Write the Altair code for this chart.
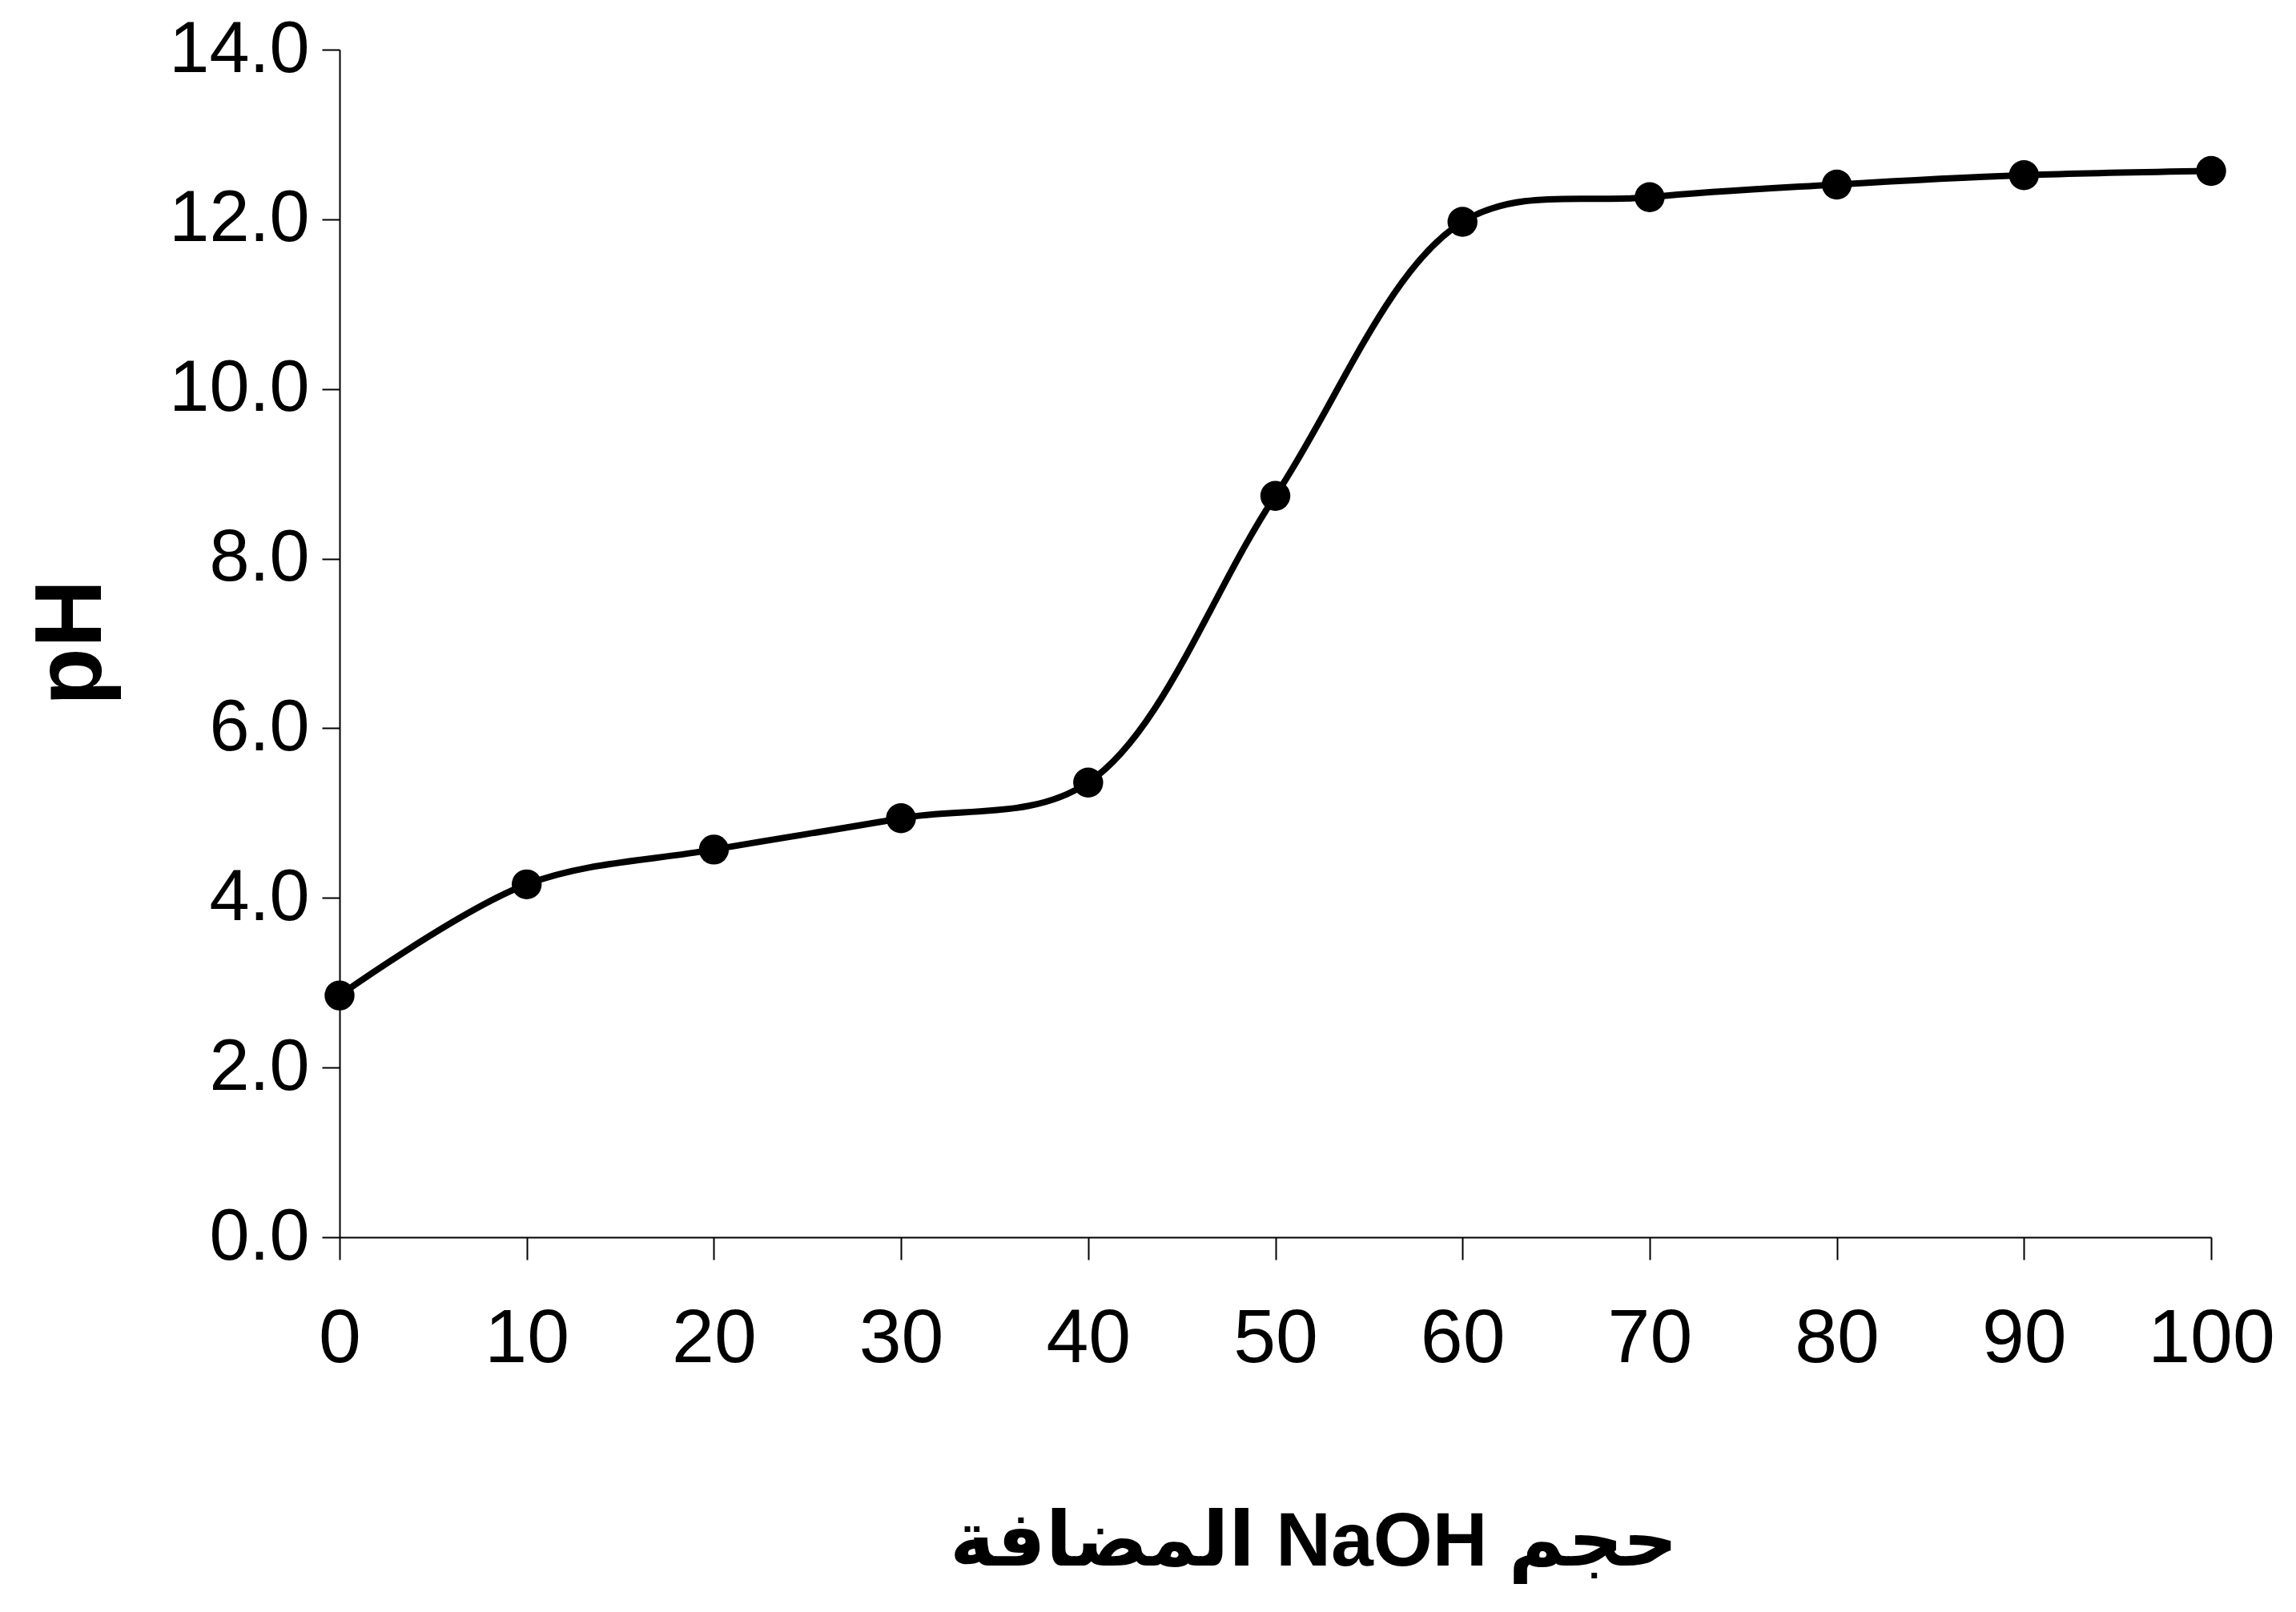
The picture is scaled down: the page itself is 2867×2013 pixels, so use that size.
import altair as alt
import pandas as pd

# Data (volume of NaOH added vs pH)
volume = [0, 10, 20, 30, 40, 50, 60, 70, 80, 90, 100]
ph = [2.85, 4.16, 4.57, 4.94, 5.36, 8.74, 11.97, 12.26, 12.41, 12.52, 12.57]

x_ticks = [0, 10, 20, 30, 40, 50, 60, 70, 80, 90, 100]
y_ticks = [0, 2, 4, 6, 8, 10, 12, 14]

x_title = "\u202bحجم NaOH المضافة\u202c"
y_title = "pH"

df = pd.DataFrame({"v": volume, "ph": ph})

FONT = "Liberation Sans, Arial, DejaVu Sans"

x_enc = alt.X(
    "v:Q",
    scale=alt.Scale(domain=[0, 100], nice=False, zero=False),
    axis=alt.Axis(
        values=x_ticks,
        format="d",
        title=x_title,
        titleFont=FONT,
        titleFontSize=95,
        titleFontWeight="bold",
        titleColor="black",
        titleX=1216,
        titleY=380,
        titleBaseline="middle",
        titleAlign="center",
        labelFont=FONT,
        labelFontSize=95,
        labelColor="black",
        labelPadding=52,
        labelFlush=False,
        labelOverlap=False,
        tickSize=28,
        tickWidth=2,
        tickColor="black",
        domainColor="black",
        domainWidth=2,
        grid=False,
    ),
)

y_enc = alt.Y(
    "ph:Q",
    scale=alt.Scale(domain=[0, 14], nice=False, zero=True),
    axis=alt.Axis(
        values=y_ticks,
        format=".1f",
        title=y_title,
        titleFont=FONT,
        titleFontSize=118,
        titleFontWeight="bold",
        titleColor="black",
        titleAngle=270,
        titleX=-334,
        titleY=740,
        titleBaseline="middle",
        titleAlign="center",
        labelFont=FONT,
        labelFontSize=90,
        labelColor="black",
        labelPadding=16,
        labelFlush=False,
        labelOverlap=False,
        tickSize=22,
        tickWidth=2,
        tickColor="black",
        domainColor="black",
        domainWidth=2,
        grid=False,
    ),
)

base = alt.Chart(df).encode(x=x_enc, y=y_enc)

line = base.mark_line(color="black", strokeWidth=8, interpolate="catmull-rom")
points = base.mark_point(filled=True, color="black", size=1400, opacity=1)

chart = (
    alt.layer(line, points)
    .properties(
        width=2337,
        height=1483,
        autosize=alt.AutoSizeParams(type="none"),
        padding={"left": 416, "top": 54, "right": 90, "bottom": 440},
        background="white",
    )
    .configure_view(stroke=None)
)

chart.save("out.html", embed_options={"renderer": "svg", "actions": False})
